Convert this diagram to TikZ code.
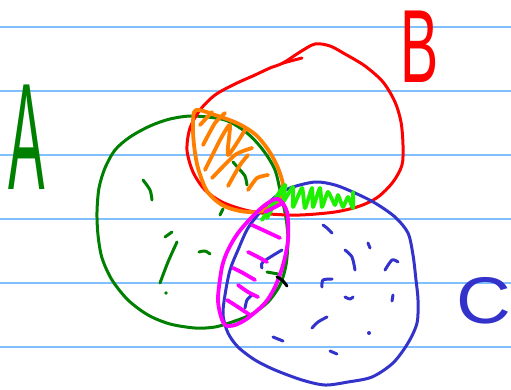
\documentclass[tikz,border=0pt]{standalone}
\usepackage{fontspec}
\newfontfamily\handfont{Liberation Sans}
\definecolor{rulecol}{RGB}{128,192,255}
\definecolor{greenA}{RGB}{0,128,0}
\definecolor{redB}{RGB}{255,0,0}
\definecolor{orangeI}{RGB}{255,128,0}
\definecolor{limeI}{RGB}{30,240,0}
\definecolor{blueC}{RGB}{51,51,204}
\definecolor{magentaI}{RGB}{255,0,255}
\tikzset{
  rule/.style={draw=rulecol, line width=1.6pt},
  pen/.style={line width=3pt, line cap=round, line join=round},
  thickpen/.style={line width=3.8pt, line cap=round, line join=round},
  label/.style={inner sep=0pt, outer sep=0pt, font=\handfont}
}
\begin{document}
\begin{tikzpicture}[x=1pt,y=-1pt]
\useasboundingbox (0,0) rectangle (511,390);
\fill[white] (0,0) rectangle (511,390);
\foreach \yy in {27,91,155,219,283,347} \draw[rule] (0,\yy) -- (511,\yy);

% set A (green)
\draw[pen, greenA] plot[smooth cycle] coordinates {(193,116) (170,119) (150,126) (130,137) (115,150) (105,168) (99,188) (97,212) (98,235) (102,258) (112,280) (128,300) (148,315) (170,324) (195,328) (215,327) (235,321) (252,314) (268,302) (280,285) (286,265) (288,240) (286,218) (281,195) (275,170) (263,150) (247,133) (225,120)};
\draw[pen, greenA] plot[smooth] coordinates {(143,180) (150,190) (152,200)};
\draw[pen, greenA] (165,237) -- (172,232);
\draw[pen, greenA] plot[smooth] coordinates {(177,242) (168,262) (160,283)};
\fill[greenA] (166,293) circle (1.8);
\draw[pen, greenA] plot[smooth] coordinates {(199,252) (205,251) (210,254)};
\draw[pen, greenA] plot[smooth] coordinates {(233,162) (240,170) (245,176) (247,185)};
\draw[pen, greenA] (220,215) -- (223,209);
\draw[pen, greenA] (267,272) -- (278,274);

% set B (red)
\draw[pen, redB] plot[smooth cycle] coordinates {(283,63) (300,52) (315,44) (330,46) (345,54) (365,66) (383,82) (395,102) (401,122) (403,145) (402,165) (393,182) (378,197) (360,206) (335,212) (300,215) (270,214) (245,210) (222,202) (205,190) (193,172) (187,150) (190,128) (200,110) (215,95) (235,84) (255,75) (270,68)};
\draw[pen, redB] (283,63) -- (302,58);

% set C (blue)
\draw[pen, blueC] plot[smooth cycle] coordinates {(262,210) (275,197) (290,188) (315,182) (335,185) (355,193) (375,203) (395,217) (408,233) (413,255) (416,280) (418,300) (417,323) (408,343) (393,363) (372,377) (348,382) (325,385) (302,380) (275,370) (255,360) (238,347) (228,333) (223,315) (225,295) (230,270) (238,250) (248,228)};
\draw[pen, blueC] plot[smooth] coordinates {(323,225) (327,228) (332,233)};
\draw[pen, blueC] (368,243) -- (370,248);
\draw[pen, blueC] plot[smooth] coordinates {(345,250) (352,257) (355,270)};
\draw[pen, blueC] plot[smooth] coordinates {(385,270) (392,260) (398,262)};
\draw[pen, blueC] plot[smooth] coordinates {(322,287) (323,280) (332,279)};
\draw[pen, blueC] plot[smooth] coordinates {(345,297) (350,299) (353,297)};
\draw[pen, blueC] (392,301) -- (393,295);
\draw[pen, blueC] plot[smooth] coordinates {(312,328) (318,322) (327,317)};
\draw[pen, blueC] (273,337) -- (283,341);
\fill[blueC] (369,333) circle (2);
\draw[pen, blueC] (330,351) -- (337,354);
\draw[pen, blueC] plot[smooth] coordinates {(262,268) (263,262) (282,250)};
\draw[pen, blueC] plot[smooth] coordinates {(245,308) (247,300) (252,295)};

% A and B (orange)
\draw[thickpen, orangeI] plot[smooth cycle] coordinates {(196,110) (218,116) (239,124) (256,135) (269,151) (278,168) (283,185) (280,199) (270,207) (258,212) (240,211) (222,205) (207,191) (198,168) (194,145) (193,124)};
\draw[thickpen, orangeI] plot[smooth, tension=0.4] coordinates {(200,125) (212,112)};
\draw[thickpen, orangeI] plot[smooth, tension=0.4] coordinates {(203,145) (215,123) (225,113)};
\draw[thickpen, orangeI] plot[smooth, tension=0.4] coordinates {(205,170) (220,140) (230,125) (228,155) (245,130)};
\draw[thickpen, orangeI] plot[smooth, tension=0.4] coordinates {(212,178) (235,155) (252,148)};
\draw[thickpen, orangeI] plot[smooth, tension=0.4] coordinates {(228,186) (240,165) (248,155)};
\draw[thickpen, orangeI] plot[smooth, tension=0.4] coordinates {(248,190) (257,178) (268,175)};

% B and C (lime)
\draw[thickpen, limeI] plot[smooth, tension=0.3] coordinates {(267,218) (285,185) (283,202) (293,187) (293,207) (302,188) (305,208) (312,188) (313,207) (320,188) (322,207) (328,192) (335,205) (338,195) (343,207) (348,197) (353,208) (353,192)};
\draw[thickpen, limeI] (262,220) -- (282,188);

% A and C (magenta)
\draw[thickpen, magentaI] plot[smooth cycle] coordinates {(278,199) (287,212) (288,240) (283,265) (275,287) (265,303) (248,318) (235,325) (225,325) (220,313) (218,297) (222,267) (228,250) (238,233) (252,217) (265,205)};
\draw[thickpen, magentaI] plot[smooth] coordinates {(252,225) (265,231) (280,238)};
\draw[thickpen, magentaI] plot[smooth] coordinates {(248,252) (258,257) (267,262)};
\draw[thickpen, magentaI] plot[smooth] coordinates {(233,268) (243,273) (255,280)};
\draw[thickpen, magentaI] plot[smooth] coordinates {(238,285) (248,292) (258,297)};
\draw[thickpen, magentaI] plot[smooth] coordinates {(227,300) (238,307) (250,315)};
\draw[thickpen, magentaI] (265,212) -- (283,203);

% black mark
\draw[pen, black] plot[smooth] coordinates {(277,277) (282,280) (287,286)};

% labels
\node[label, text=greenA] (labA) at (27,137) {\scalebox{0.36}[1]{\fontsize{152}{152}\selectfont A}};
\node[label, text=redB] (labB) at (420,47) {\scalebox{0.55}[1]{\fontsize{104}{104}\selectfont B}};
\node[label, text=blueC] (labC) at (484,301) {\scalebox{1.15}[1]{\fontsize{66}{66}\selectfont C}};
\end{tikzpicture}
\end{document}
